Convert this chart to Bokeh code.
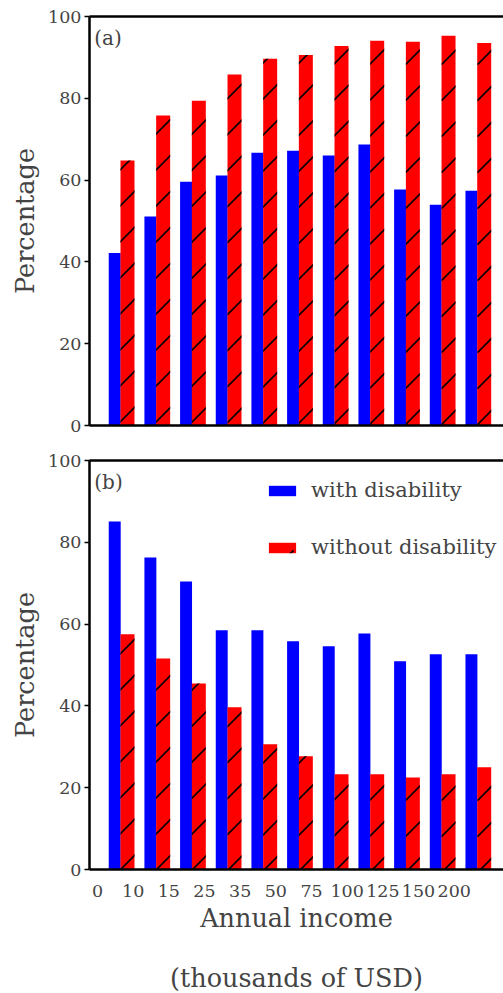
from bokeh.plotting import figure
from bokeh.models import (ColumnDataSource, LinearAxis, FixedTicker, Range1d,
                          Legend, LegendItem, Label)
from bokeh.layouts import column
from bokeh.embed import file_html
from bokeh.resources import INLINE
from bokeh.transform import dodge

# ---------------- data ----------------
income_labels = ["0", "10", "15", "25", "35", "50", "75", "100", "125", "150", "200"]
a_with = [42.2, 51.1, 59.6, 61.1, 66.7, 67.2, 66.0, 68.7, 57.7, 54.0, 57.4]
a_without = [64.8, 75.8, 79.4, 85.8, 89.7, 90.6, 92.8, 94.1, 93.8, 95.3, 93.5]
b_with = [85.1, 76.3, 70.4, 58.5, 58.5, 55.8, 54.6, 57.7, 50.9, 52.6, 52.6]
b_without = [57.5, 51.6, 45.5, 39.7, 30.6, 27.7, 23.3, 23.3, 22.5, 23.3, 25.0]
y_ticks = [0, 20, 40, 60, 80, 100]

FONT = "DejaVu Serif"
BLUE = "#0000ff"
RED = "#ff0000"
LW = 2.5


def make_panel(with_vals, without_vals, tag, is_bottom, top_border, bottom_border):
    idx = list(range(len(income_labels)))
    src = ColumnDataSource(dict(idx=idx, w=with_vals, wo=without_vals))
    p = figure(output_backend="svg", toolbar_location=None,
               frame_width=414, frame_height=409,
               x_range=Range1d(-0.224, 11.382), y_range=Range1d(0, 100),
               x_axis_type=None, y_axis_type=None,
               min_border_left=89, min_border_right=0,
               min_border_top=top_border, min_border_bottom=bottom_border)
    p.outline_line_color = None
    p.background_fill_color = "white"
    p.border_fill_color = "white"

    rb = p.vbar(x=dodge("idx", 0.483, range=p.x_range), top="w", width=0.335,
                source=src, fill_color=BLUE, line_color=None)
    rr = p.vbar(x=dodge("idx", 0.841, range=p.x_range), top="wo", width=0.392,
                source=src, fill_color=RED, line_color=None,
                hatch_pattern=",", hatch_scale=36, hatch_weight=1.6,
                hatch_color="black")

    yax = LinearAxis(ticker=FixedTicker(ticks=y_ticks), axis_label="Percentage")
    yax.axis_line_width = LW
    yax.major_tick_in = 0
    yax.major_tick_out = 5
    yax.major_tick_line_width = 1.5
    yax.major_label_standoff = 3
    yax.major_label_text_font = FONT
    yax.major_label_text_font_size = "17.5px"
    yax.axis_label_text_font = FONT
    yax.axis_label_text_font_size = "25.5px"
    yax.axis_label_text_font_style = "normal"
    yax.axis_label_standoff = 5
    p.add_layout(yax, "left")

    top = LinearAxis(ticker=FixedTicker(ticks=[]))
    top.axis_line_width = LW
    top.major_label_text_font_size = "0px"
    p.add_layout(top, "above")

    if is_bottom:
        xax = LinearAxis(ticker=FixedTicker(ticks=idx),
                         major_label_overrides={i: s for i, s in zip(idx, income_labels)},
                         axis_label="Annual income")
        xax.axis_line_width = LW
        xax.major_tick_in = 0
        xax.major_tick_out = 0
        xax.major_label_standoff = 15
        xax.major_label_text_font = FONT
        xax.major_label_text_font_size = "17.5px"
        xax.axis_label_text_font = FONT
        xax.axis_label_text_font_size = "25.5px"
        xax.axis_label_text_font_style = "normal"
        xax.axis_label_standoff = 3
        p.add_layout(xax, "below")

        x2 = LinearAxis(ticker=FixedTicker(ticks=[]), axis_label="(thousands of USD)")
        x2.axis_line_color = None
        x2.major_label_text_font_size = "0px"
        x2.axis_label_text_font = FONT
        x2.axis_label_text_font_size = "25.5px"
        x2.axis_label_text_font_style = "normal"
        x2.axis_label_standoff = 27
        p.add_layout(x2, "below")
    else:
        xax = LinearAxis(ticker=FixedTicker(ticks=[]))
        xax.axis_line_width = LW
        xax.major_label_text_font_size = "0px"
        p.add_layout(xax, "below")

    p.add_layout(Label(x=-0.09, y=94.8, text=tag, text_font=FONT,
                       text_font_size="20px", text_baseline="middle",
                       text_align="left"))
    return p, rb, rr


p1, _, _ = make_panel(a_with, a_without, "(a)", False, 16, 23)
p2, rb2, rr2 = make_panel(b_with, b_without, "(b)", True, 12, 0)

legend = Legend(items=[LegendItem(label="with disability", renderers=[rb2]),
                       LegendItem(label="without disability", renderers=[rr2])],
                location=(176, 310), glyph_width=34, glyph_height=13,
                label_standoff=12, spacing=33, padding=0, margin=0,
                border_line_color=None, background_fill_alpha=0,
                label_text_font=FONT, label_text_font_size="21px",
                label_height=20)
p2.add_layout(legend)

layout = column(p1, p2, spacing=0)
open("out.html", "w").write(file_html(layout, INLINE))
